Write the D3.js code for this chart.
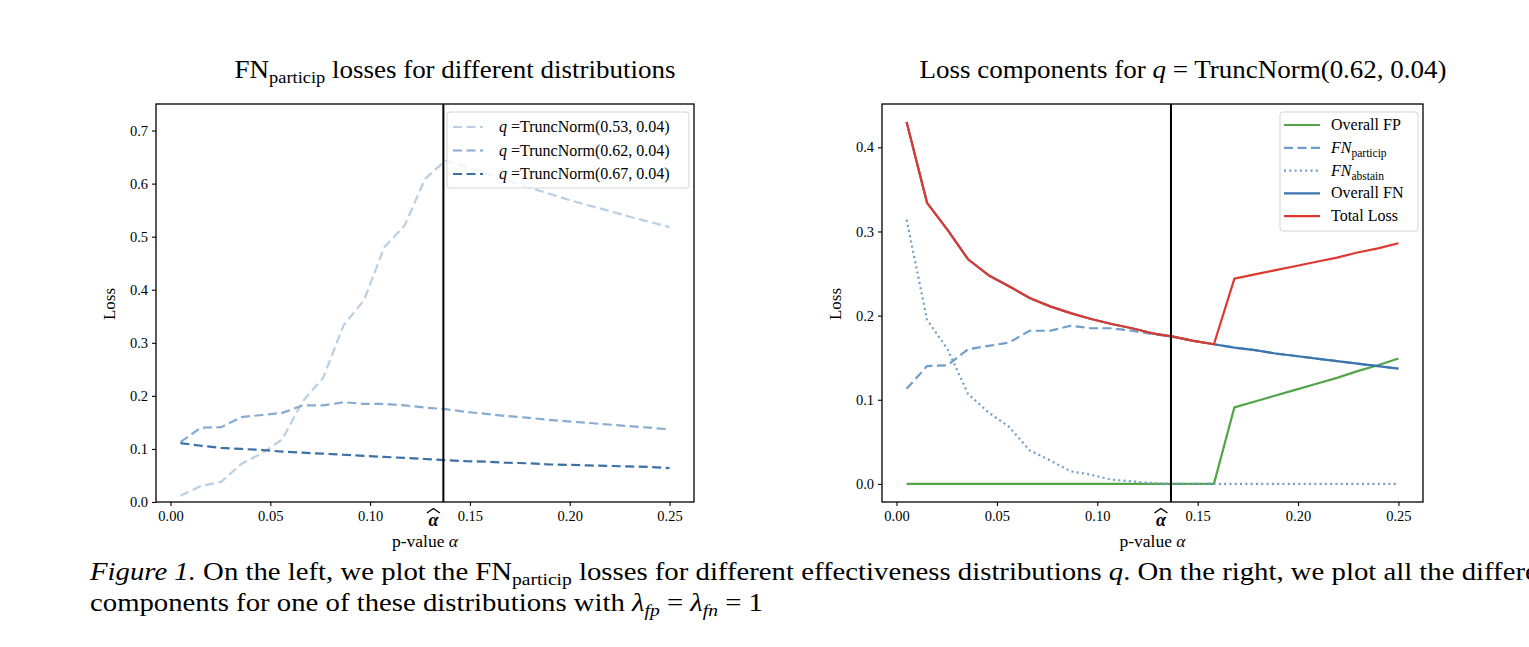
<!DOCTYPE html>
<html><head><meta charset="utf-8">
<script src="https://cdn.jsdelivr.net/npm/d3@7"></script>
<style>
body{margin:0;background:#fff;}
svg{display:block;}
text{font-family:"Liberation Serif","DejaVu Serif",serif;fill:#000;}
</style></head>
<body>
<svg id="c" width="1529" height="647"></svg>
<script>
// ---------- data ----------
const alphas = [0.005,0.0152,0.0254,0.0356,0.0458,0.0560,0.0663,0.0765,0.0867,0.0969,0.1071,0.1173,0.1275,0.1377,0.1479,0.1581,0.1683,0.1785,0.1888,0.1990,0.2092,0.2194,0.2296,0.2398,0.25];
const xTicks = [0,0.05,0.10,0.15,0.20,0.25];
const yTicksL = [0,0.1,0.2,0.3,0.4,0.5,0.6,0.7];
const yTicksR = [0,0.1,0.2,0.3,0.4];
const alphaHat = 0.1367;

const fn053 = [0.012,0.030,0.038,0.072,0.092,0.118,0.190,0.234,0.333,0.380,0.480,0.521,0.609,0.643,0.632,0.619,0.606,0.594,0.582,0.570,0.559,0.549,0.538,0.528,0.518];
const fn062 = [0.113,0.140,0.141,0.160,0.164,0.168,0.182,0.182,0.188,0.185,0.185,0.182,0.178,0.175,0.170,0.166,0.162,0.159,0.155,0.152,0.149,0.146,0.143,0.140,0.137];
const fn067 = [0.111,0.106,0.102,0.100,0.098,0.095,0.093,0.091,0.089,0.087,0.085,0.083,0.081,0.079,0.077,0.076,0.074,0.073,0.071,0.070,0.069,0.068,0.067,0.066,0.064];
const leftLabels = ["0.53","0.62","0.67"];

const overallFP = [0,0,0,0,0,0,0,0,0,0,0,0,0,0,0,0,0.091,0.098,0.105,0.112,0.119,0.126,0.134,0.141,0.149];
const fnParticip = fn062;
const fnAbstain = [0.314,0.195,0.160,0.107,0.085,0.068,0.040,0.028,0.015,0.011,0.005,0.003,0.001,0,0,0,0,0,0,0,0,0,0,0,0];
const overallFN = [0.430,0.334,0.302,0.267,0.248,0.235,0.221,0.211,0.203,0.196,0.190,0.185,0.179,0.175,0.170,0.166,0.162,0.159,0.155,0.152,0.149,0.146,0.143,0.140,0.137];
const totalLoss = [0.430,0.334,0.302,0.267,0.248,0.235,0.221,0.211,0.203,0.196,0.190,0.185,0.179,0.175,0.170,0.166,0.244,0.249,0.254,0.259,0.264,0.269,0.275,0.280,0.286];

// ---------- drawing ----------
const svg = d3.select("#c");

function panel(cfg){
  const g = svg.append("g");
  const x = d3.scaleLinear().domain([-0.00725,0.26225]).range([cfg.x0,cfg.x1]);
  const y = d3.scaleLinear().domain(cfg.ydom).range([502,104]);
  const ax = g.append("g").attr("transform","translate(0,502)")
    .call(d3.axisBottom(x).tickValues(xTicks).tickFormat(d3.format(".2f")).tickSize(4).tickPadding(5));
  const ay = g.append("g").attr("transform",`translate(${cfg.x0},0)`)
    .call(d3.axisLeft(y).tickValues(cfg.yTicks).tickFormat(d3.format(".1f")).tickSize(4).tickPadding(4));
  [ax,ay].forEach(a=>{
    a.select(".domain").remove();
    a.selectAll("line").attr("stroke","#000").attr("stroke-width",1.1);
    a.selectAll("text").style("font-family",'"Liberation Serif",serif').style("font-size","14.5px").attr("fill","#222");
  });
  const lineGen = d3.line().x((d,i)=>x(alphas[i])).y(d=>y(d));
  cfg.series.forEach(s=>{
    g.append("path").attr("d",lineGen(s.v)).attr("fill","none")
      .attr("stroke",s.c).attr("stroke-width",s.w||2.2)
      .attr("stroke-dasharray",s.dash||null)
      .attr("stroke-linejoin","round");
  });
  g.append("line").attr("x1",x(alphaHat)).attr("x2",x(alphaHat)).attr("y1",104).attr("y2",502)
    .attr("stroke","#000").attr("stroke-width",2);
  g.append("rect").attr("x",cfg.x0).attr("y",104).attr("width",cfg.x1-cfg.x0).attr("height",398)
    .attr("fill","none").attr("stroke","#000").attr("stroke-width",1.3);
  const ahx = x(alphaHat)-10;
  g.append("text").attr("x",ahx).attr("y",526).attr("text-anchor","middle")
    .style("font-size","18px").style("font-weight","bold").style("font-style","italic").text("α");
  g.append("path").attr("d",`M${ahx-6.5},513 L${ahx},508.5 L${ahx+6.5},513`).attr("fill","none")
    .attr("stroke","#000").attr("stroke-width",1.3);
  const cx = (cfg.x0+cfg.x1)/2;
  const xl = g.append("text").attr("x",cx).attr("y",547).attr("text-anchor","middle").style("font-size","17.5px");
  xl.append("tspan").text("p-value ");
  xl.append("tspan").style("font-style","italic").text("α");
  g.append("text").attr("transform",`translate(${cfg.x0-41},304) rotate(-90)`).attr("text-anchor","middle")
    .style("font-size","17px").text("Loss");
  const L = cfg.legend;
  g.append("rect").attr("x",L.x).attr("y",L.y).attr("width",L.w).attr("height",L.h).attr("rx",3)
    .attr("fill","#fff").attr("fill-opacity",0.8).attr("stroke","#d4d4d4").attr("stroke-width",1);
  L.items.forEach((it,i)=>{
    const yy = L.y + L.first + i*L.step;
    g.append("line").attr("x1",L.x+L.lx0).attr("x2",L.x+L.lx1).attr("y1",yy).attr("y2",yy)
      .attr("stroke",it.c).attr("stroke-width",2.2).attr("stroke-dasharray",it.dash||null);
    const t = g.append("text").attr("x",L.x+L.tx).attr("y",yy+5).style("font-size","16px");
    it.label(t);
  });
  return {x,y};
}

const blues = ["#b8cfe4","#87abd1","#3b70a7"];
panel({
  x0:156,x1:694,ydom:[0,0.75],yTicks:yTicksL,
  series:[
    {v:fn053,c:blues[0],dash:"9,4.5"},
    {v:fn062,c:blues[1],dash:"9,4.5"},
    {v:fn067,c:blues[2],dash:"9,4.5"}
  ],
  legend:{x:447,y:112,w:242,h:76,first:15,step:23.5,lx0:6,lx1:36,tx:52,
    items:leftLabels.map((lab,i)=>({c:blues[i],dash:"9,4.5",label:t=>{
      t.append("tspan").style("font-style","italic").text("q");
      t.append("tspan").text(" =TruncNorm(" + lab + ", 0.04)");
    }}))}
});

const cFP="#52a447", cFNp="#6e9dc9", cFN="#3c74af", cTot="#dc3a2f";
function fnLab(sub){return t=>{
  t.append("tspan").style("font-style","italic").text("FN");
  t.append("tspan").attr("dy",4).style("font-size","11.5px").text(sub);
};}
panel({
  x0:882,x1:1423,ydom:[-0.0215,0.4515],yTicks:yTicksR,
  series:[
    {v:overallFP,c:cFP},
    {v:fnParticip,c:cFNp,dash:"9,4.5"},
    {v:fnAbstain,c:cFNp,dash:"2,3.3"},
    {v:overallFN,c:cFN},
    {v:totalLoss,c:cTot}
  ],
  legend:{x:1280,y:112,w:138,h:119,first:13,step:22.8,lx0:4,lx1:40,tx:51,
    items:[
      {c:cFP,label:t=>t.text("Overall FP")},
      {c:cFNp,dash:"9,4.5",label:fnLab("particip")},
      {c:cFNp,dash:"2,3.3",label:fnLab("abstain")},
      {c:cFN,label:t=>t.text("Overall FN")},
      {c:cTot,label:t=>t.text("Total Loss")}
    ]}
});

// Titles
function stretched(cx, y, sx, anchor){
  return svg.append("g").attr("transform",`translate(${cx},${y}) scale(${sx},1)`)
    .append("text").attr("x",0).attr("y",0).attr("text-anchor",anchor);
}
const t1 = stretched(455,78,1.08,"middle").style("font-size","25px");
t1.append("tspan").text("FN");
t1.append("tspan").attr("dy",5).style("font-size","17px").text("particip");
t1.append("tspan").attr("dy",-5).text(" losses for different distributions");

const t2 = stretched(1183,78,1.08,"middle").style("font-size","25px");
t2.append("tspan").text("Loss components for ");
t2.append("tspan").style("font-style","italic").text("q");
t2.append("tspan").text(" = TruncNorm(0.62, 0.04)");

// Caption
const c1 = stretched(90,580,1.15,"start").style("font-size","25px");
c1.append("tspan").style("font-style","italic").text("Figure 1.");
c1.append("tspan").text(" On the left, we plot the FN");
c1.append("tspan").attr("dy",5).style("font-size","17px").text("particip");
c1.append("tspan").attr("dy",-5).text(" losses for different effectiveness distributions ");
c1.append("tspan").style("font-style","italic").text("q");
c1.append("tspan").text(". On the right, we plot all the different loss");

const c2 = stretched(90,611,1.15,"start").style("font-size","25px");
c2.append("tspan").text("components for one of these distributions with ");
c2.append("tspan").style("font-style","italic").text("λ");
c2.append("tspan").attr("dy",5).style("font-size","17px").style("font-style","italic").text("fp");
c2.append("tspan").attr("dy",-5).text(" = ");
c2.append("tspan").style("font-style","italic").text("λ");
c2.append("tspan").attr("dy",5).style("font-size","17px").style("font-style","italic").text("fn");
c2.append("tspan").attr("dy",-5).text(" = 1");
</script>
</body></html>
